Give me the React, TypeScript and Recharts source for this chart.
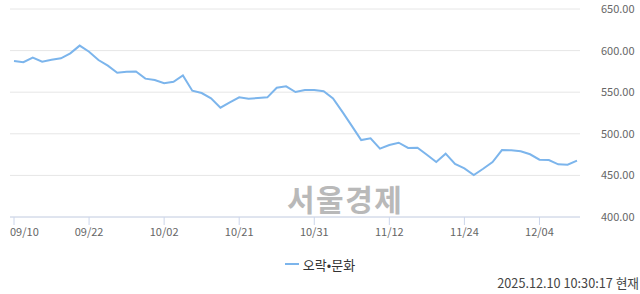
import { LineChart, Line, XAxis, YAxis, CartesianGrid, Legend } from 'recharts';

const dates = [
  '09/10', '09/11', '09/12', '09/15', '09/16', '09/17', '09/18', '09/19', '09/22',
  '09/23', '09/24', '09/25', '09/26', '09/29', '09/30', '10/01', '10/02',
  '10/10', '10/13', '10/14', '10/15', '10/16', '10/17', '10/20', '10/21',
  '10/22', '10/23', '10/24', '10/27', '10/28', '10/29', '10/30', '10/31',
  '11/03', '11/04', '11/05', '11/06', '11/07', '11/10', '11/11', '11/12',
  '11/13', '11/14', '11/17', '11/18', '11/19', '11/20', '11/21', '11/24',
  '11/25', '11/26', '11/27', '11/28', '12/01', '12/02', '12/03', '12/04',
  '12/05', '12/08', '12/09', '12/10',
];

const values = [
  587.5, 586, 591.5, 586.7, 589, 590.7, 596.7, 606, 598.7,
  588.7, 581.9, 573.4, 574.6, 575, 566.3, 564.7, 560.7,
  562.6, 570.2, 551.8, 549, 542.6, 531.4, 537.8, 543.8,
  542.2, 543, 543.8, 555.4, 557, 550.2, 552.6, 552.6,
  551.2, 542.6, 526.4, 509.5, 492.5, 494.5, 482.1, 486.5,
  489.3, 483, 483.3, 474.9, 466.1, 476.1, 463.7, 458.5,
  450.5, 458, 466.1, 480.5, 480.3, 479, 475.4, 468.9,
  468.5, 463.3, 462.9, 467.7,
];

const yTicks = [400, 450, 500, 550, 600, 650];
const seriesName = '오락•문화';

const data = dates.map((d, i) => ({ date: d, value: values[i] }));

const FONT = '"Noto Sans CJK KR", "Noto Sans", sans-serif';

const DateTick = ({ x, y, payload, index }: any) => (
  <text
    x={index === 0 ? x - 4 : x}
    y={y}
    dy="0.71em"
    textAnchor={index === 0 ? 'start' : 'middle'}
    fill="#666"
    fontSize={11}
    fontFamily={FONT}
  >
    {payload.value}
  </text>
);

const LegendContent = () => (
  <div
    style={{
      display: 'flex',
      justifyContent: 'center',
      alignItems: 'center',
      fontFamily: FONT,
      fontSize: 13,
      color: '#333',
      height: 20,
    }}
  >
    <svg width={14} height={4} style={{ marginRight: 4 }}>
      <line x1={0} y1={2} x2={14} y2={2} stroke="#7cb5ec" strokeWidth={2} />
    </svg>
    <span>{seriesName}</span>
  </div>
);

export default function App() {
  return (
    <div style={{ position: 'absolute', left: 0, top: 0, width: 640, height: 294, background: '#fff' }}>
      <div
        style={{
          position: 'absolute',
          left: 287,
          top: 180,
          fontFamily: FONT,
          fontWeight: 700,
          fontSize: 30,
          letterSpacing: 1.5,
          lineHeight: '36px',
          color: '#b9b9b9',
          whiteSpace: 'nowrap',
        }}
      >
        서울경제
      </div>
      <LineChart
        width={640}
        height={294}
        data={data}
        margin={{ top: 9, right: 0, bottom: 20, left: 10 }}
        style={{ position: 'absolute', left: 0, top: 0 }}
      >
        <CartesianGrid vertical={false} stroke="#e6e6e6" />
        <XAxis
          dataKey="date"
          interval={7}
          height={37}
          padding={{ left: 4, right: 3 }}
          stroke="#ccd6eb"
          tickSize={8}
          tickMargin={3}
          tick={<DateTick />}
        />
        <YAxis
          orientation="right"
          width={60}
          domain={[400, 650]}
          ticks={yTicks}
          axisLine={false}
          tickLine={false}
          tickMargin={15}
          tickFormatter={(v) => v.toFixed(2)}
          tick={{ fill: '#666', fontSize: 11, fontFamily: FONT, textAnchor: 'start' }}
        />
        <Legend verticalAlign="bottom" height={20} content={<LegendContent />} wrapperStyle={{ left: 0, width: 640 }} />
        <Line
          type="linear"
          dataKey="value"
          name={seriesName}
          stroke="#7cb5ec"
          strokeWidth={2}
          dot={false}
          isAnimationActive={false}
        />
      </LineChart>
      <div
        style={{
          position: 'absolute',
          right: 1,
          top: 273,
          fontFamily: FONT,
          fontSize: 12.7,
          color: '#444',
          whiteSpace: 'nowrap',
        }}
      >
        2025.12.10 10:30:17 현재
      </div>
    </div>
  );
}
